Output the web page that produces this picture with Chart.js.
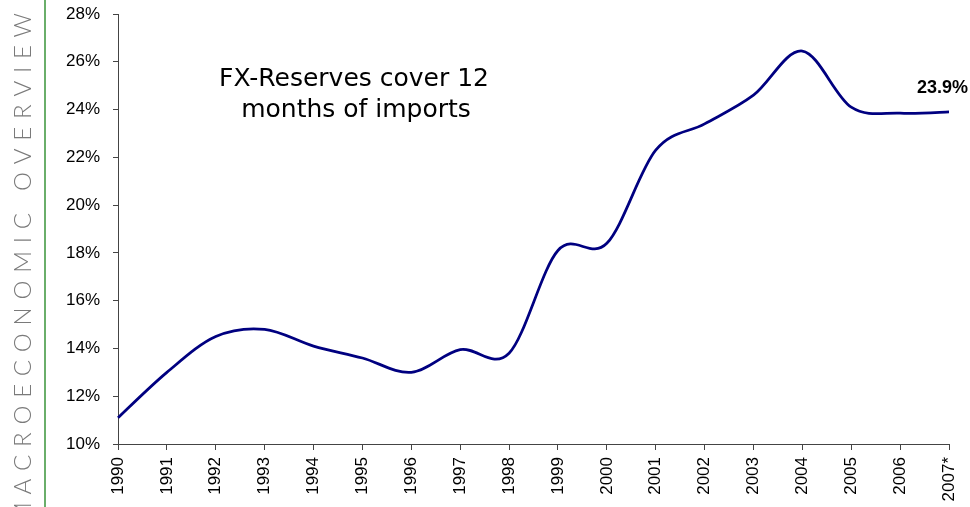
<!DOCTYPE html>
<html>
<head>
<meta charset="utf-8">
<script src="https://cdn.jsdelivr.net/npm/chart.js@4"></script>
<style>
  html, body { margin: 0; padding: 0; background: #fff; }
  #wrap { position: relative; width: 970px; height: 507px; }
</style>
</head>
<body>
<div id="wrap"><canvas id="myChart" width="970" height="507"></canvas></div>
<script>
const years = ['1990', '1991', '1992', '1993', '1994', '1995', '1996', '1997', '1998', '1999',
	'2000', '2001', '2002', '2003', '2004', '2005', '2006', '2007*']
const reserves = [11.1, 13.0, 14.5, 14.8, 14.1, 13.6, 13.0, 13.95, 13.8, 18.1,
	18.4, 22.3, 23.4, 24.6, 26.45, 24.1, 23.85, 23.9]
const yTicks = [10, 12, 14, 16, 18, 20, 22, 24, 26, 28]
const noteLines = ['FX-Reserves cover 12', 'months of imports']
const lastLabel = '23.9%'
const sideTitle = 'MACROECONOMIC OVERVIEW'

// Excel-style smoothing: uniform Catmull-Rom control points
const smoothPlugin = {
	id: 'smooth',
	beforeDatasetDraw: (chart, args) => {
		const meta = args.meta
		const line = meta.dataset
		line.updateControlPoints(chart.chartArea, meta.iScale.axis)
		const pts = meta.data
		pts.forEach((p, i) => {
			const prev = pts[Math.max(i - 1, 0)]
			const next = pts[Math.min(i + 1, pts.length - 1)]
			const dx = (next.x - prev.x) / 6
			const dy = (next.y - prev.y) / 6
			p.cp1x = p.x - dx
			p.cp1y = p.y - dy
			p.cp2x = p.x + dx
			p.cp2y = p.y + dy
		})
		line._path = undefined
	},
}

const sideTitlePlugin = {
	id: 'sideTitle',
	afterDraw: (chart) => {
		const ctx = chart.ctx
		// green rule
		ctx.save()
		ctx.strokeStyle = '#6aae6a'
		ctx.lineWidth = 2
		ctx.beginPath()
		ctx.moveTo(45, 0)
		ctx.lineTo(45, 507)
		ctx.stroke()
		ctx.restore()

		// spaced vertical title
		ctx.save()
		ctx.font = '300 24px Lato'
		ctx.fillStyle = '#7a7a7a'
		ctx.textBaseline = 'middle'
		ctx.translate(23, 524)
		ctx.rotate(-Math.PI / 2)
		const chars = sideTitle.split('')
		const natural = chars.reduce((s, c) => s + ctx.measureText(c).width, 0)
		const gap = (511 - natural) / (chars.length - 1)
		let pos = 0
		chars.forEach((c) => {
			ctx.fillText(c, pos, 0)
			pos += ctx.measureText(c).width + gap
		})
		ctx.restore()

		// annotation
		ctx.save()
		ctx.font = '25px "DejaVu Sans"'
		ctx.fillStyle = '#000'
		ctx.textAlign = 'center'
		ctx.textBaseline = 'alphabetic'
		ctx.fillText(noteLines[0], 354, 86)
		ctx.fillText(noteLines[1], 356, 117)
		ctx.restore()

		// last value label
		const meta = chart.getDatasetMeta(0)
		const last = meta.data[meta.data.length - 1]
		ctx.save()
		ctx.font = 'bold 18px "Liberation Sans"'
		ctx.fillStyle = '#000'
		ctx.textAlign = 'right'
		ctx.textBaseline = 'alphabetic'
		ctx.fillText(lastLabel, 968, last.y - 19)
		ctx.restore()
	},
}

const chart = document.getElementById('myChart')
new Chart(chart, {
	type: 'line',
	data: {
		labels: years,
		datasets: [
			{
				data: reserves,
				borderColor: '#000080',
				borderWidth: 2.75,
				pointRadius: 0,
				pointHoverRadius: 0,
				tension: 0.4,
				fill: false,
			},
		],
	},
	options: {
		responsive: false,
		animation: false,
		layout: {
			padding: { left: 50, top: 14, right: 21, bottom: 0 },
		},
		scales: {
			x: {
				offset: false,
				afterFit: (scale) => {
					scale.height = 63
					scale.paddingLeft = 0
					scale.paddingRight = 0
				},
				border: { color: '#444', width: 1 },
				grid: {
					drawOnChartArea: false,
					drawTicks: true,
					tickLength: 6,
					color: '#444',
				},
				ticks: {
					autoSkip: false,
					maxRotation: 90,
					minRotation: 90,
					padding: 7,
					color: '#000',
					font: { family: 'Liberation Sans', size: 17 },
				},
			},
			y: {
				min: yTicks[0],
				max: yTicks[yTicks.length - 1],
				afterFit: (scale) => {
					scale.width = 68
					scale.paddingTop = 0
					scale.paddingBottom = 0
				},
				afterBuildTicks: (scale) => {
					scale.ticks = yTicks.map((v) => ({ value: v }))
				},
				border: { color: '#444', width: 1 },
				grid: {
					drawOnChartArea: false,
					drawTicks: true,
					tickLength: 5,
					color: '#444',
				},
				ticks: {
					padding: 13,
					color: '#000',
					font: { family: 'Liberation Sans', size: 17 },
					callback: (v) => v + '%',
				},
			},
		},
		plugins: {
			legend: { display: false },
			tooltip: { enabled: false },
		},
	},
	plugins: [smoothPlugin, sideTitlePlugin],
})
</script>
</body>
</html>
